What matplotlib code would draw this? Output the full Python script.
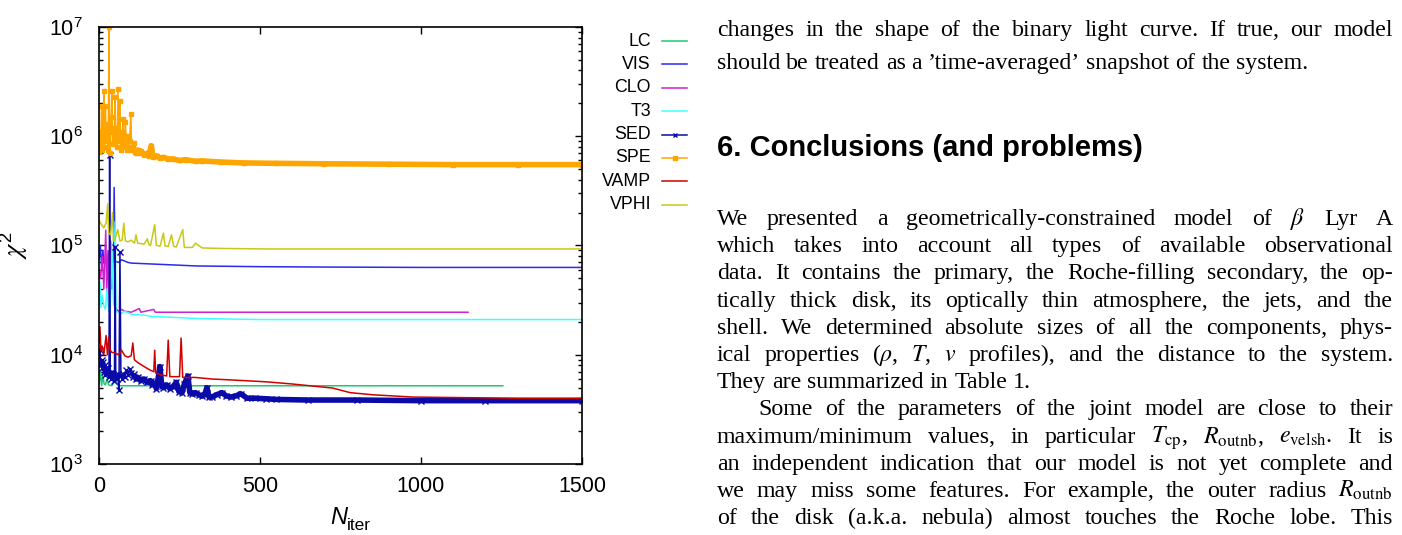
import numpy as np
import matplotlib
matplotlib.use("Agg")
import matplotlib.pyplot as plt
from matplotlib.lines import Line2D
from matplotlib.ticker import LogLocator, FixedLocator, NullFormatter, LogFormatterMathtext

plt.rcParams['font.family'] = ['Liberation Sans', 'DejaVu Sans']
plt.rcParams['mathtext.fontset'] = 'stix'

# ----------------------------
# Data
# ----------------------------
lc_iter = [0, 4, 8, 12, 16, 20, 25, 30, 40, 50, 60, 80, 100, 200, 400, 700, 1000, 1254]
lc_chi2 = [5.5e3, 7.2e3, 5.2e3, 6.5e3, 5.4e3, 5.3e3, 6.0e3, 5.3e3, 5.2e3, 5.8e3, 5.2e3,
           5.2e3, 5.2e3, 5.2e3, 5.2e3, 5.2e3, 5.2e3, 5.2e3]

vis_iter = [0, 4, 8, 12, 16, 20, 25, 30, 35, 40, 45, 47, 50, 55, 60, 70, 80, 90, 100,
            150, 200, 250, 300, 400, 500, 700, 1000, 1500]
vis_chi2 = [7.5e4, 1.0e5, 6.5e4, 9.0e4, 6.8e4, 7.2e4, 6.9e4, 8.5e4, 7.0e4, 7.3e4, 6.9e4,
            3.4e5, 7.2e4, 7.1e4, 7.0e4, 7.4e4, 7.2e4, 7.0e4, 6.9e4, 6.8e4, 6.7e4, 6.6e4,
            6.5e4, 6.45e4, 6.4e4, 6.35e4, 6.3e4, 6.3e4]

clo_iter = [0, 5, 10, 15, 21, 24, 28, 32, 36, 40, 44, 48, 55, 60, 70, 80, 100, 125, 130,
            170, 175, 200, 300, 500, 800, 1146]
clo_chi2 = [6e4, 5e4, 8e4, 4e4, 1.38e5, 3.5e4, 9e4, 3e4, 1.1e5, 4e4, 7e4, 2.8e4, 2.6e4,
            2.5e4, 2.6e4, 2.5e4, 2.45e4, 2.65e4, 2.45e4, 2.6e4, 2.45e4, 2.45e4, 2.45e4,
            2.45e4, 2.45e4, 2.45e4]

t3_iter = [0, 3, 6, 10, 15, 20, 25, 30, 35, 40, 45, 50, 53, 60, 70, 80, 100, 143, 160,
           230, 300, 500, 800, 1100, 1500]
t3_chi2 = [3.0e4, 4.7e4, 2.7e4, 3.5e4, 2.8e4, 2.6e4, 4e4, 2.5e4, 2.7e4, 9e4, 3e4, 1.65e5,
           2.5e4, 2.45e4, 2.4e4, 2.5e4, 2.35e4, 2.3e4, 2.25e4, 2.2e4, 2.15e4, 2.1e4,
           2.1e4, 2.1e4, 2.1e4]

sed_iter = [0, 3, 5, 8, 10, 13, 15, 18, 20, 23, 25, 28, 31, 33, 35, 38, 40, 43, 45, 48,
            50, 52, 55, 58, 62, 65, 68, 72, 75, 80, 85, 90, 95, 100, 105, 110, 115, 120,
            130, 140, 150, 160, 165, 173, 178, 182, 189, 195, 200, 210, 220, 230, 240,
            248, 258, 265, 276, 282, 290, 300, 310, 320, 328, 335, 342, 350, 365, 382,
            395, 410, 425, 440, 460, 485, 520, 550, 650, 800, 1000, 1200, 1500]
sed_chi2 = [9.5e3, 1.1e4, 8e3, 9e3, 7.5e3, 8.5e3, 7e3, 8e3, 6.5e3, 7.5e3, 6.8e3, 7.5e3,
            6.2e3, 6.7e5, 6.8e3, 6.0e3, 7.0e3, 6.2e3, 6.5e3, 5.8e3, 9.6e4, 6.5e3, 6.0e3,
            6.6e3, 4.76e3, 8.7e4, 6.5e3, 6.0e3, 6.6e3, 6.2e3, 7.2e3, 6.5e3, 7.4e3, 6.8e3,
            6.2e3, 6.6e3, 6.0e3, 6.2e3, 5.8e3, 6.0e3, 5.6e3, 5.8e3, 5.3e3, 5.5e3, 4.9e3,
            5.6e3, 7.8e3, 5.2e3, 5.0e3, 5.3e3, 4.9e3, 5.1e3, 5.6e3, 4.6e3, 4.5e3, 5.4e3,
            6.4e3, 4.5e3, 4.4e3, 4.5e3, 4.3e3, 4.2e3, 4.3e3, 5.0e3, 4.1e3, 4.1e3, 4.3e3,
            4.5e3, 4.2e3, 4.1e3, 4.2e3, 4.4e3, 4.0e3, 4.0e3, 3.95e3, 3.9e3, 3.85e3,
            3.85e3, 3.8e3, 3.8e3, 3.8e3]

spe_iter = [0, 2, 4, 6, 8, 10, 13, 15, 17, 20, 22, 25, 27, 29, 31, 33, 35, 38, 40, 42,
            44, 47, 50, 52, 55, 57, 59, 62, 65, 67, 70, 72, 74, 76, 78, 80, 82, 85, 87,
            90, 92, 95, 99, 101, 103, 106, 109, 112, 115, 120, 125, 130, 140, 150, 155,
            162, 168, 180, 190, 200, 215, 230, 250, 270, 300, 320, 380, 450, 550, 700,
            900, 1100, 1300, 1500]
spe_chi2 = [7.2e5, 1.1e6, 7.5e5, 9e5, 1.9e6, 7.5e5, 1.2e6, 2.6e6, 8e5, 1.9e6, 9e5, 1.3e6,
            7.5e5, 1.0e6, 1.0e7, 7.0e5, 1.1e6, 1.5e6, 2.6e6, 8.5e5, 1.2e6, 9e5, 2.3e6,
            1.0e6, 1.2e6, 8e5, 2.7e6, 9e5, 2.1e6, 7.5e5, 1.1e6, 8e5, 1.45e6, 9e5, 8.5e5,
            1.0e6, 1.35e6, 8e5, 7.5e5, 1.0e6, 8e5, 9e5, 1.6e6, 8e5, 7.5e5, 8e5, 8.6e5,
            7.2e5, 7.0e5, 7.5e5, 7.0e5, 7.3e5, 6.8e5, 7.0e5, 6.6e5, 8.2e5, 6.5e5, 6.6e5,
            6.3e5, 6.4e5, 6.2e5, 6.2e5, 6.0e5, 6.1e5, 5.9e5, 5.95e5, 5.8e5, 5.7e5, 5.65e5,
            5.6e5, 5.55e5, 5.5e5, 5.5e5, 5.5e5]

vamp_iter = [0, 3, 6, 10, 15, 22, 26, 30, 35, 40, 50, 60, 70, 80, 90, 100, 105, 110, 120,
             143, 160, 170, 173, 176, 196, 210, 215, 220, 250, 255, 260, 298, 350, 400,
             450, 520, 600, 725, 780, 850, 975, 1130, 1300, 1500]
vamp_chi2 = [1.3e4, 1.8e4, 1.1e4, 1.2e4, 1.0e4, 1.5e4, 1.0e4, 1.45e4, 1.1e4, 1.05e4,
             1.04e4, 1.0e4, 1.1e4, 9.8e3, 9.5e3, 9.8e3, 1.28e4, 9.0e3, 8.5e3, 7.7e3,
             7.2e3, 7.0e3, 1.1e4, 6.8e3, 6.5e3, 6.4e3, 1.36e4, 6.3e3, 6.3e3, 1.42e4,
             6.2e3, 6.2e3, 6.0e3, 5.9e3, 5.8e3, 5.65e3, 5.4e3, 4.96e3, 4.5e3, 4.3e3,
             4.1e3, 4.05e3, 4.0e3, 4.0e3]

vphi_iter = [0, 8, 15, 22, 27, 30, 36, 42, 45, 50, 58, 65, 72, 77, 82, 90, 100, 110, 115,
             120, 140, 150, 155, 160, 173, 178, 190, 200, 205, 215, 225, 232, 240, 260,
             265, 290, 300, 320, 380, 450, 520, 700, 1000, 1500]
vphi_chi2 = [1.7e5, 1.55e5, 1.45e5, 1.6e5, 2.4e5, 1.3e5, 1.25e5, 2.0e5, 1.1e5, 1.15e5,
             1.4e5, 1.1e5, 1.12e5, 1.6e5, 1.1e5, 1.08e5, 1.12e5, 1.05e5, 1.25e5, 1.05e5,
             1.03e5, 1.15e5, 1.02e5, 1.0e5, 1.55e5, 1.0e5, 9.9e4, 1.3e5, 9.9e4, 9.8e4,
             1.25e5, 9.8e4, 9.7e4, 1.4e5, 9.6e4, 9.6e4, 1.05e5, 9.5e4, 9.4e4, 9.35e4,
             9.3e4, 9.3e4, 9.3e4, 9.3e4]

labels = ["LC", "VIS", "CLO", "T3", "SED", "SPE", "VAMP", "VPHI"]
series = [(lc_iter, lc_chi2), (vis_iter, vis_chi2), (clo_iter, clo_chi2), (t3_iter, t3_chi2),
          (sed_iter, sed_chi2), (spe_iter, spe_chi2), (vamp_iter, vamp_chi2),
          (vphi_iter, vphi_chi2)]
colors = ["#20c870", "#2a2af0", "#d020d0", "#40ffff", "#0a0aa8", "#ffa500", "#d00000", "#c8c818"]
markers = [None, None, None, None, "x", "s", None, None]

# text of the paper column
para0 = ["changes in the shape of the binary light curve. If true, our model",
         "should be treated as a \u2019time-averaged\u2019 snapshot of the system."]
heading = "6. Conclusions (and problems)"
para1 = ["We presented a geometrically-constrained model of $\\beta$ Lyr A",
         "which takes into account all types of available observational",
         "data. It contains the primary, the Roche-filling secondary, the op-",
         "tically thick disk, its optically thin atmosphere, the jets, and the",
         "shell. We determined absolute sizes of all the components, phys-",
         "ical properties ($\\rho$, $T$, $v$ profiles), and the distance to the system.",
         "They are summarized in Table 1."]
para2 = ["Some of the parameters of the joint model are close to their",
         "maximum/minimum values, in particular $T_{\\mathrm{cp}}$, $R_{\\mathrm{outnb}}$, "
         "$e_{\\mathrm{velsh}}$. It is",
         "an independent indication that our model is not yet complete and",
         "we may miss some features. For example, the outer radius $R_{\\mathrm{outnb}}$",
         "of the disk (a.k.a. nebula) almost touches the Roche lobe. This"]

W, H = 1402, 535
fig = plt.figure(figsize=(W / 100, H / 100), dpi=100)
ax = fig.add_axes([99 / W, 1 - 464 / H, (582 - 99) / W, (464 - 27) / H])

for (x, y), c, m in zip(series, colors, markers):
    x = np.asarray(x, float)
    y = np.asarray(y, float)
    if m is None:
        ax.plot(x, y, color=c, lw=1.1)
    else:
        ax.plot(x, y, color=c, lw=1.1, marker=m, ms=3.5 if m == 's' else 4, mew=1.0)
        late = x >= 110
        ax.plot(x[late], y[late], color=c, lw=4.0, solid_capstyle='butt')

ax.set_yscale('log')
ax.set_xlim(0, 1500)
ax.set_ylim(1e3, 1e7)
ax.xaxis.set_major_locator(FixedLocator([0, 500, 1000, 1500]))
ax.yaxis.set_major_locator(LogLocator(base=10, numticks=10))
ax.yaxis.set_minor_locator(LogLocator(base=10, subs=np.arange(2, 10), numticks=10))
ax.yaxis.set_minor_formatter(NullFormatter())
ax.yaxis.set_major_formatter(LogFormatterMathtext())
ax.tick_params(which='both', direction='in', top=True, right=True, width=1.0)
ax.tick_params(which='major', length=5, labelsize=15.5)
ax.tick_params(which='minor', length=2.8)
ax.tick_params(axis='x', pad=9)
ax.tick_params(axis='y', pad=36)
for s in ax.spines.values():
    s.set_linewidth(1.2)

ax.set_ylabel(r'$\chi^{\mathdefault{2}}$', fontsize=19)
ax.yaxis.set_label_coords(-0.142, 0.5)
fig.text(347 / W, 1 - 518 / H, 'N', fontsize=17, style='italic', ha='right', va='center')
fig.text(347 / W, 1 - 525 / H, 'iter', fontsize=12.5, ha='left', va='center')

# legend, right-aligned labels like gnuplot
for i, (lab, c, m) in enumerate(zip(labels, colors, markers)):
    yy = 1 - (41 + 23.4 * i) / H
    fig.text(651 / W, yy, lab, fontsize=12.8, ha='right', va='center')
    fig.add_artist(Line2D([662 / W, 687 / W], [yy, yy], color=c, lw=1.1,
                          transform=fig.transFigure))
    if m is not None:
        fig.add_artist(Line2D([674.5 / W], [yy], color=c, marker=m, ms=3.5, mew=1.0,
                              transform=fig.transFigure))

fig.canvas.draw()
for t in ax.get_yticklabels():
    t.set_horizontalalignment('left')

# ----------------------------
# Paper text column (justified)
# ----------------------------
renderer = fig.canvas.get_renderer()
serif = ['Liberation Serif', 'DejaVu Serif']
X0, X1 = 717, 1393


def text_width(s, size, **kw):
    t = fig.text(0, 0, s, fontsize=size, **kw)
    w = t.get_window_extent(renderer).width
    t.remove()
    return w


def natural_width(line, size, indent=0):
    words = line.split(' ')
    ws = sum(text_width(w, size, family=serif) for w in words)
    return indent + ws + 0.2 * size * 100 / 72 * (len(words) - 1)


justified = [para0[0]] + para1[:-1] + para2
indent = 41
widest = max(natural_width(l, 16, indent if l == para2[0] else 0) for l in justified)
body_size = min(17.2, 16 * (X1 - X0 - 2) / widest)


def put_line(line, base_y, justify, indent=0):
    words = line.split(' ')
    ws = [text_width(w, body_size, family=serif) for w in words]
    if justify and len(words) > 1:
        gap = (X1 - X0 - indent - sum(ws)) / (len(words) - 1)
    else:
        gap = 0.25 * body_size * 100 / 72
    x = X0 + indent
    for w, wd in zip(words, ws):
        fig.text(x / W, 1 - base_y / H, w, fontsize=body_size, family=serif,
                 ha='left', va='baseline')
        x += wd + gap


lead = 27.2
put_line(para0[0], 36, True)
put_line(para0[1], 36 + 33, False)

hw = text_width(heading, 20, weight='bold')
fig.text(X0 / W, 1 - 156 / H, heading, fontsize=20 * 425 / hw, weight='bold',
         ha='left', va='baseline')

y0 = 225
for k, line in enumerate(para1):
    put_line(line, y0 + lead * k, k < len(para1) - 1)
for k, line in enumerate(para2):
    put_line(line, y0 + lead * (len(para1) + k), True, indent if k == 0 else 0)

fig.savefig("out.png", dpi=100)
